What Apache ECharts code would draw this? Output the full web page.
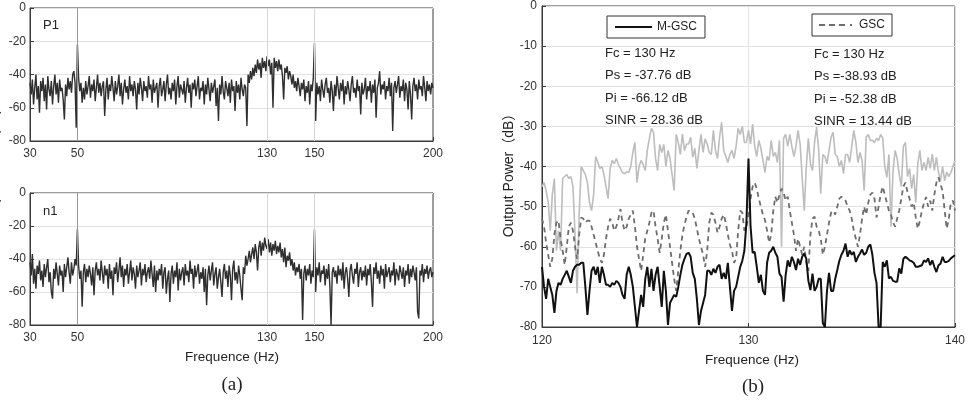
<!DOCTYPE html>
<html>
<head>
<meta charset="utf-8">
<script src="https://cdn.jsdelivr.net/npm/echarts@6/dist/echarts.min.js"></script>
<style>
html, body { margin: 0; padding: 0; background: #fff; }
#chart { width: 968px; height: 402px; }
</style>
</head>
<body>
<div id="chart"></div>
<script>
// (a) spectra, 30..200 Hz every 0.5 Hz
const leftStart = 30
const leftStep = 0.5
const p1 = [
  -45,-52,-43,-58,-48,-40,-55,-47,-63,-44, -50,-42,-56,-46,-61,-41,-49,-53,-44,-58,
  -47,-40,-52,-45,-57,-43,-50,-48,-55,-67, -46,-53,-42,-49,-44,-51,-40,-38,-45,-72,
  -22,-42,-50,-45,-57,-48,-55,-44,-52,-47, -41,-54,-46,-50,-43,-56,-48,-40,-51,-45,
  -53,-47,-44,-65,-49,-42,-55,-46,-50,-41, -48,-56,-44,-52,-47,-40,-53,-45,-58,-49,
  -43,-51,-47,-55,-41,-50,-46,-53,-44,-49, -61,-45,-52,-42,-48,-56,-44,-50,-47,-54,
  -41,-49,-46,-57,-43,-51,-48,-45,-60,-47, -42,-53,-49,-44,-56,-46,-40,-52,-48,-55,
  -45,-50,-43,-58,-47,-41,-54,-46,-49,-52, -44,-57,-48,-42,-51,-46,-60,-45,-49,-43,
  -53,-47,-41,-55,-48,-50,-44,-58,-46,-52, -42,-49,-56,-45,-51,-47,-43,-59,-48,-68,
  -46,-52,-41,-50,-55,-44,-48,-53,-45,-57, -43,-50,-47,-62,-44,-51,-46,-55,-42,-49,
  -53,-46,-48,-71,-40,-45,-38,-43,-36,-41, -34,-39,-31,-37,-33,-42,-30,-36,-32,-38,
  -29,-35,-31,-40,-33,-60,-30,-36,-32,-38, -31,-37,-34,-41,-55,-36,-39,-35,-43,-38,
  -41,-46,-40,-48,-44,-50,-42,-47,-53,-45, -49,-43,-56,-47,-51,-44,-58,-46,-50,-42,
  -21,-68,-45,-52,-47,-56,-43,-49,-54,-46, -42,-51,-48,-57,-44,-50,-62,-46,-53,-41,
  -48,-55,-45,-50,-43,-58,-47,-52,-44,-49, -56,-46,-41,-51,-48,-54,-43,-50,-47,-64,
  -45,-52,-49,-42,-55,-47,-50,-44,-57,-46, -51,-43,-66,-48,-45,-38,-52,-46,-49,-44,
  -55,-47,-50,-42,-53,-45,-74,-48,-44,-51, -46,-41,-54,-47,-50,-43,-56,-45,-49,-61,
  -44,-52,-67,-47,-42,-50,-46,-55,-43,-49, -47,-53,-41,-48,-56,-44,-50,-46,-52,-45,
  -48
]
const n1 = [
  -42,-50,-37,-55,-46,-58,-44,-49,-41,-53, -47,-57,-43,-51,-45,-40,-54,-48,-60,-64,
  -46,-52,-42,-49,-56,-44,-50,-47,-60,-43, -51,-45,-39,-48,-55,-42,-50,-46,-40,-44,
  -22,-44,-52,-47,-69,-48,-43,-54,-46,-51, -44,-49,-56,-45,-62,-47,-42,-50,-46,-53,
  -41,-48,-55,-44,-50,-46,-58,-43,-52,-47, -62,-45,-49,-42,-54,-47,-39,-51,-44,-57,
  -46,-50,-43,-55,-48,-41,-53,-45,-49,-58, -44,-51,-47,-42,-56,-46,-50,-43,-54,-48,
  -45,-52,-41,-49,-57,-44,-60,-47,-53,-46, -50,-43,-58,-48,-45,-61,-52,-47,-66,-49,
  -44,-55,-47,-51,-42,-59,-46,-53,-48,-45, -56,-43,-50,-47,-54,-41,-49,-46,-58,-44,
  -51,-47,-43,-55,-48,-52,-45,-60,-46,-68, -50,-44,-53,-47,-42,-56,-49,-45,-58,-51,
  -46,-54,-63,-48,-43,-52,-47,-57,-44,-50, -65,-46,-41,-53,-48,-55,-44,-50,-58,-65,
  -45,-49,-38,-44,-40,-35,-42,-37,-33,-40, -31,-36,-47,-33,-29,-38,-30,-35,-27,-32,
  -34,-28,-36,-30,-38,-31,-35,-29,-37,-32, -36,-30,-39,-34,-42,-33,-45,-38,-41,-36,
  -44,-40,-47,-42,-50,-45,-48,-43,-52,-46, -77,-49,-44,-53,-46,-50,-43,-55,-47,-51,
  -22,-60,-45,-50,-42,-54,-47,-49,-44,-56, -46,-52,-43,-57,-80,-48,-45,-51,-47,-55,
  -44,-50,-46,-53,-42,-58,-48,-45,-52,-63, -47,-43,-50,-55,-46,-49,-42,-57,-48,-45,
  -53,-47,-51,-44,-56,-46,-50,-43,-54,-69, -45,-49,-42,-52,-47,-55,-44,-50,-46,-58,
  -43,-51,-48,-45,-54,-47,-50,-42,-56,-46, -49,-53,-44,-48,-52,-45,-57,-47,-50,-43,
  -55,-46,-51,-44,-48,-53,-45,-72,-76,-47, -50,-43,-54,-46,-49,-44,-52,-47,-45,-51,
  -48
]
const leftTicks = [30, 50, 130, 150, 200]
const leftGridX = [50, 130, 150]

// (b) zoom 120..140 Hz every 0.1 Hz
const rightStart = 120
const rightStep = 0.1
const mgsc = [
  -65,-70,-73,-68,-70,-72,-76.5,-71,-69,-69.5, -68,-67,-66,-67.5,-69,-66,-65,-64.5,-64.5,-64,
  -64,-70,-77,-71,-66,-65,-67,-65,-69,-65, -67,-69.5,-69.5,-70,-69,-69.5,-68.5,-69,-70,-72,
  -73,-67,-65,-67,-70,-75,-80,-76,-72,-75, -68,-65,-70,-65.5,-71,-67,-65,-70,-75,-66,
  -71,-79.5,-74,-73,-72,-72.5,-70,-67,-64.5,-63, -61.8,-61.5,-62.5,-66.5,-68,-73,-79.5,-76,-74,-72,
  -66,
  -66,-67,-65.5,-66.5,-65,-64.5,-68,-66.5,-68,-64,
  -70,-76,-71,-70,-67.5,-65,-63.5,-61,-54,-38,
  -55,-61.5,-61.3,-65,-69,-67,-71,-72,-64,-61.5,
  -61,-60,-61.5,-62.5,-66.7,-67.5,-73.7,-67,-63.4,-65,
  -62.5,-63.8,-65.8,-63,-64.5,-62.5,-61.7,-63,-68.5,-70.8,
  -66.7,-71,-70,-68,-68,-79,-80,-71,-66.5,-71,
  -71,-68,-65.8,-63.5,-62,-61,-59.2,-62.5,-60.9,-62,
  -61.3,-63.8,-62.5,-61.7,-60.7,-62,-61.5,-60,-59.4,-62,
  -66.5,-69,-80,-80,-63.8,-65,-63.4,-67.9,-67.5,-68.5,
  -68.7,-68.7,-65.4,-66.7,-63,-62.5,-62.9,-63.4,-63.6,-64,
  -65,-65,-64.8,-64.6,-63.4,-63.8,-62.9,-64.6,-63.4,-65,
  -66.3,-64.6,-64.2,-62.5,-63.8,-63.8,-63.5,-62.9,-62.5,-62.1
]
const gsc = [
  -53,-55,-59,-62,-65,-63,-57,-54,-53.5,-58, -61,-64.5,-60,-55,-54,-56,-60,-63,-57,-52.7,
  -53,-54,-53.5,-53.5,-55,-57,-59,-61,-63,-64, -62,-58,-55,-53,-54,-56,-55,-53,-50.6,-54,
  -56,-55,-53,-52,-51,-55,-60,-63,-66,-62, -57.9,-56,-54,-51.5,-51,-55,-58,-61.5,-58,-54,
  -52,-56,-60,-64,-68,-71,-66,-61,-57,-54.5, -52.5,-51,-51.5,-51.5,-53,-55.5,-58,-60,-62,-65,
  -61,-54,-51.5,-52,-54,-56.5,-55,-53,-52,-54, -57,-59.5,-61,-64,-63,-56,-51,-51.5,-56,-55,
  -52,-48,-45,-44,-45.5,-48,-50,-52,-53.4,-56, -59,-57,-51,-47.5,-49,-47,-45.5,-46.5,-48.5,-47.5,
  -51,-54,-57,-61,-58,-60,-62,-60,-64,-66, -57,-53,-52.5,-55,-56,-58,-62,-60,-57,-54,
  -51.5,-51,-52,-50,-48,-47.5,-48,-48.5,-50,-51, -53,-56,-58,-60,-57,-53,-50,-52,-49,-47,
  -46.5,-48,-52.7,-50,-47,-45,-47,-49,-51,-52, -54,-55,-53,-51,-48,-45,-44,-46.4,-48,-50,
  -49,-52.7,-55.5,-53.5,-51,-49,-47.6,-50,-48.5,-51, -47,-44,-42.7,-44.5,-46,-51,-55.5,-53,-49,-48.5,
  -51
]
const raw = [
  -45,-44,-46,-49,-56,-47,-43,-61,-56,-61, -43,-42.5,-42,-43,-42.5,-45,-57,-71.6,-52,-40,
  -41,-42,-44,-49,-51,-47,-37.5,-38.9,-40.5,-40, -42,-45,-48,-40.5,-38.5,-39.3,-38,-39.5,-40.5,-41.5,
  -41.8,-41.4,-41.4,-40,-36.5,-34,-44,-40,-38.5,-39.5, -41,-36,-33,-30.5,-31.5,-38,-41,-34.5,-36.5,-34.5,
  -40,-36,-38,-42,-46,-32,-34,-37,-31.9,-36, -34.4,-34.4,-32.7,-37.7,-35.5,-40.5,-36,-32,-36.5,-33.1,
  -34.4,-36.5,-37,-31,-36,-38,-32.7,-29,-36,-37.5, -39,-37,-36,-38,-35,-30.5,-32,-30,-34,-34,
  -31,-34.4,-29.4,-35,-37.5,-33.5,-35.5,-38.5,-41.5,-37.5, -38.5,-33.5,-37.5,-36.5,-39,-33.5,-60,-33,-32,-35,
  -32,-35,-37.5,-35,-31,-34.4,-42.7,-51,-40,-33, -39.3,-41,-34,-30.2,-36,-46.8,-37,-37.5,-39.3,-36,
  -32.7,-31.5,-37,-37.5,-40,-38.5,-41.8,-37,-37,-39, -35,-31,-34,-39,-36.5,-38.5,-46,-32.7,-32,-33.5,
  -33.5,-34,-33,-33.5,-32,-33,-40,-42.7,-37,-55, -41,-36,-38,-42,-45,-35,-34,-42.5,-40.5,-45.5,
  -42,-49,-39.3,-36,-41,-39,-41,-37.7,-40.5,-36.9, -41,-37.7,-41.5,-43.5,-40,-43.5,-41.4,-42.5,-41.5,-40,
  -38.5
]
const notesMGSC = ['Fc = 130 Hz', 'Ps = -37.76 dB', 'Pi = -66.12 dB', 'SINR = 28.36 dB']
const notesGSC = ['Fc = 130 Hz', 'Ps =-38.93 dB', 'Pi = -52.38 dB', 'SINR = 13.44 dB']

const font = '"Liberation Sans", Arial, Helvetica, sans-serif'
const axisColor = '#3a3a3a'
const labelColor = '#333'
const gridColor = '#e2e2e2'

function toPairs(vals, start, step) {
  return vals.map((v, i) => [Math.round((start + i * step) * 100) / 100, v])
}

function leftXAxis(gridIndex) {
  return {
    type: 'value', gridIndex, min: 30, max: 200,
    axisLine: { show: true, onZero: false, lineStyle: { color: axisColor } },
    axisTick: { show: true, inside: true, length: 4, customValues: leftTicks, lineStyle: { color: axisColor } },
    axisLabel: { customValues: leftTicks, color: labelColor, fontSize: 12, fontFamily: font, margin: 7 },
    splitLine: { show: false }
  }
}

function yAxis(gridIndex, interval, margin) {
  return {
    type: 'value', gridIndex, min: -80, max: 0, interval,
    axisLine: { show: true, lineStyle: { color: axisColor } },
    axisTick: { show: true, inside: true, length: 4, lineStyle: { color: axisColor } },
    axisLabel: { color: labelColor, fontSize: 12, fontFamily: font, margin },
    splitLine: { show: true, lineStyle: { color: gridColor } }
  }
}

function vGrid(axisIndex) {
  return {
    type: 'line', xAxisIndex: axisIndex, yAxisIndex: axisIndex, data: [], z: 1, silent: true,
    markLine: {
      silent: true, symbol: 'none', label: { show: false }, animation: false,
      data: leftGridX.map(v => ({
        xAxis: v,
        lineStyle: { color: v === 50 ? '#9a9a9a' : '#d6d6d6', type: 'solid', width: 1 }
      }))
    }
  }
}

function leftSeries(vals, axisIndex) {
  return {
    type: 'line', xAxisIndex: axisIndex, yAxisIndex: axisIndex, z: 3,
    data: toPairs(vals, leftStart, leftStep),
    symbol: 'none', clip: true,
    lineStyle: { color: '#2f2f2f', width: 1.4 }
  }
}

function noteTexts(lines, x, y0) {
  return lines.map((t, i) => ({
    type: 'text', x, y: y0 + i * 22.5, z: 10,
    style: { text: t, fill: '#222', font: '13px ' + font, verticalAlign: 'middle' }
  }))
}

const chart = echarts.init(document.getElementById('chart'))

chart.setOption({
  animation: false,
  grid: [
    { left: 30, top: 8, width: 403, height: 133, show: true, borderColor: axisColor, borderWidth: 1, backgroundColor: 'transparent' },
    { left: 30, top: 193, width: 403, height: 132, show: true, borderColor: axisColor, borderWidth: 1, backgroundColor: 'transparent' },
    { left: 542, top: 5, width: 417, height: 322, show: true, borderColor: axisColor, borderWidth: 1, backgroundColor: 'transparent' }
  ],
  xAxis: [
    leftXAxis(0),
    leftXAxis(1),
    {
      type: 'value', gridIndex: 2, min: 120, max: 140, interval: 10,
      axisLine: { show: true, onZero: false, lineStyle: { color: axisColor } },
      axisTick: { show: true, inside: true, length: 4, lineStyle: { color: axisColor } },
      axisLabel: { color: labelColor, fontSize: 12, fontFamily: font, margin: 8 },
      splitLine: { show: true, lineStyle: { color: gridColor } }
    }
  ],
  yAxis: [yAxis(0, 20, 4), yAxis(1, 20, 4), yAxis(2, 10, 5)],
  legend: [
    {
      data: [{ name: 'M-GSC', icon: 'path://M0,0H37V2H0Z' }],
      left: 607, top: 16, itemWidth: 37, itemHeight: 2, padding: [5, 8],
      borderColor: '#333', borderWidth: 1, selectedMode: false,
      textStyle: { fontSize: 12, color: '#222', fontFamily: font, lineHeight: 12 }
    },
    {
      data: [{ name: 'GSC', icon: 'path://M0,0H6V2H0Z M10,0H16V2H10Z M20,0H26V2H20Z M31,0H33V2H31Z' }],
      left: 812, top: 14, itemWidth: 37, itemHeight: 2, padding: [5, 7],
      borderColor: '#333', borderWidth: 1, selectedMode: false,
      textStyle: { fontSize: 12, color: '#222', fontFamily: font, lineHeight: 12 }
    }
  ],
  series: [
    vGrid(0),
    vGrid(1),
    leftSeries(p1, 0),
    leftSeries(n1, 1),
    {
      name: 'raw', type: 'line', xAxisIndex: 2, yAxisIndex: 2, z: 2,
      data: toPairs(raw, rightStart, rightStep), symbol: 'none',
      lineStyle: { color: '#bdbdbd', width: 1.6 }
    },
    {
      name: 'GSC', type: 'line', xAxisIndex: 2, yAxisIndex: 2, z: 3,
      data: toPairs(gsc, rightStart, rightStep), symbol: 'none',
      itemStyle: { color: '#6e6e6e' },
      lineStyle: { color: '#6e6e6e', width: 1.8, type: [5, 4] }
    },
    {
      name: 'M-GSC', type: 'line', xAxisIndex: 2, yAxisIndex: 2, z: 4,
      data: toPairs(mgsc, rightStart, rightStep), symbol: 'none',
      itemStyle: { color: '#111' },
      lineStyle: { color: '#111', width: 2 }
    }
  ],
  graphic: [
    { type: 'text', x: 43, y: 25, style: { text: 'P1', fill: '#222', font: '13px ' + font, verticalAlign: 'middle' } },
    { type: 'text', x: 43, y: 211, style: { text: 'n1', fill: '#222', font: '13px ' + font, verticalAlign: 'middle' } },
    { type: 'text', x: -6, y: 167, rotation: Math.PI / 2,
      style: { text: 'Output Power (dB)', fill: '#222', font: '14px ' + font, align: 'center', verticalAlign: 'middle' } },
    { type: 'text', x: 509, y: 172, rotation: Math.PI / 2,
      style: { text: 'Output Power（dB）', fill: '#222', font: '14px "Liberation Sans", "Noto Sans CJK SC", sans-serif', align: 'center', verticalAlign: 'middle' } },
    { type: 'text', x: 232, y: 357, style: { text: 'Frequence (Hz)', fill: '#222', font: '13.5px ' + font, align: 'center', verticalAlign: 'middle' } },
    { type: 'text', x: 752, y: 360, style: { text: 'Frequence (Hz)', fill: '#222', font: '13.5px ' + font, align: 'center', verticalAlign: 'middle' } },
    { type: 'text', x: 232, y: 385, style: { text: '(a)', fill: '#222', font: '19px "Liberation Serif", "Times New Roman", serif', align: 'center', verticalAlign: 'middle' } },
    { type: 'text', x: 753, y: 387, style: { text: '(b)', fill: '#222', font: '19px "Liberation Serif", "Times New Roman", serif', align: 'center', verticalAlign: 'middle' } },
    ...noteTexts(notesMGSC, 605, 53),
    ...noteTexts(notesGSC, 814, 54)
  ]
})
</script>
</body>
</html>
